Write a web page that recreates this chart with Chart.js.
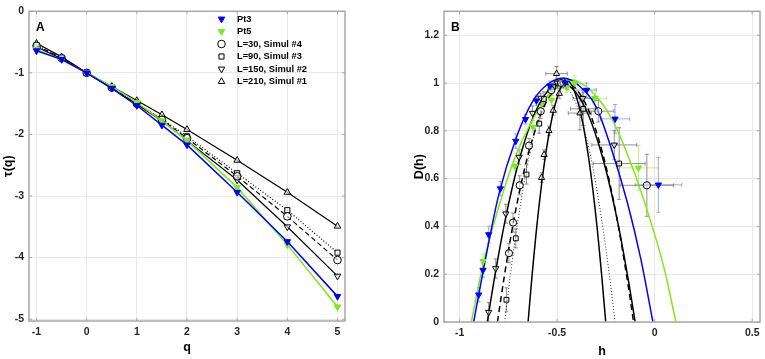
<!DOCTYPE html>
<html>
<head>
<meta charset="utf-8">
<script src="https://cdn.jsdelivr.net/npm/chart.js@4.4.0/dist/chart.umd.min.js"></script>
<style>
  html, body { margin: 0; padding: 0; background: #fff; }
  #wrapA { position: absolute; left: 0; top: 0; width: 380px; height: 359px; }
  #wrapB { position: absolute; left: 380px; top: 0; width: 385px; height: 359px; }
</style>
</head>
<body>
<div id="wrapA"><canvas id="chartA" width="380" height="359"></canvas></div>
<div id="wrapB"><canvas id="chartB" width="385" height="359"></canvas></div>
<script>
// ---- panel A : tau(q) ----
const qValues = [-1, -0.5, 0, 0.5, 1, 1.5, 2, 3, 4, 5];
const tauPt3  = [-0.64, -0.78, -1.0, -1.25, -1.53, -1.85, -2.17, -2.94, -3.74, -4.63];
const tauPt5  = [-0.62, -0.79, -1.0, -1.22, -1.48, -1.78, -2.10, -2.86, -3.79, -4.80];
const tauL30  = [-0.56, -0.76, -1.0, -1.24, -1.50, -1.76, -2.06, -2.68, -3.33, -4.04];
const tauL90  = [-0.55, -0.76, -1.0, -1.24, -1.50, -1.75, -2.03, -2.63, -3.23, -3.92];
const tauL150 = [-0.58, -0.77, -1.0, -1.25, -1.51, -1.78, -2.10, -2.74, -3.50, -4.30];
const tauL210 = [-0.52, -0.74, -1.0, -1.22, -1.45, -1.68, -1.92, -2.42, -2.94, -3.49];
const qTicks = [-1, 0, 1, 2, 3, 4, 5];
const tauTicks = [-5, -4, -3, -2, -1, 0];

// ---- panel B : D(h) markers with error bars ----
const pt3H    = [-0.902, -0.88, -0.851, -0.791, -0.712, -0.662, -0.606, -0.537, -0.46, -0.349, -0.203, 0.019];
const pt3D    = [0.114, 0.217, 0.366, 0.558, 0.757, 0.848, 0.926, 0.988, 1.0, 0.97, 0.85, 0.574];
const pt3HErr = [0, 0, 0, 0, 0, 0, 0.005, 0.01, 0.02, 0.05, 0.075, 0.12];
const pt3DErr = [0.03, 0.03, 0.035, 0.03, 0.03, 0.02, 0.02, 0.02, 0.02, 0.03, 0.06, 0.115];

const pt5H    = [-0.88, -0.717, -0.623, -0.529, -0.451, -0.409, -0.306, -0.083];
const pt5D    = [0.254, 0.652, 0.816, 0.929, 0.981, 1.0, 0.936, 0.645];
const pt5HErr = [0, 0, 0, 0, 0.01, 0.03, 0.058, 0.1];
const pt5DErr = [0.03, 0.02, 0.02, 0.02, 0.02, 0.03, 0.04, 0.095];

const l30H    = [-0.747, -0.726, -0.692, -0.644, -0.584, -0.53, -0.48, -0.289, -0.04];
const l30D    = [0.288, 0.416, 0.572, 0.738, 0.882, 0.97, 1.0, 0.882, 0.572];
const l30HErr = [0, 0, 0, 0, 0, 0, 0.01, 0.08, 0.137];
const l30DErr = [0.04, 0.04, 0.04, 0.03, 0.03, 0.02, 0.02, 0.045, 0.13];

const l90H    = [-0.76, -0.712, -0.657, -0.592, -0.568, -0.52, -0.47, -0.366, -0.182];
const l90D    = [0.093, 0.35, 0.617, 0.83, 0.933, 0.985, 1.0, 0.892, 0.663];
const l90HErr = [0, 0, 0, 0, 0, 0.01, 0.01, 0.065, 0.133];
const l90DErr = [0.05, 0.04, 0.04, 0.04, 0.03, 0.02, 0.02, 0.07, 0.15];

const l150H    = [-0.851, -0.815, -0.763, -0.695, -0.626, -0.584, -0.5, -0.369, -0.207];
const l150D    = [0.041, 0.224, 0.453, 0.69, 0.874, 0.937, 1.0, 0.936, 0.741];
const l150HErr = [0, 0, 0, 0, 0, 0, 0.01, 0.05, 0.115];
const l150DErr = [0.04, 0.04, 0.04, 0.03, 0.03, 0.02, 0.02, 0.04, 0.06];

const l210H    = [-0.58, -0.567, -0.542, -0.52, -0.489, -0.503, -0.46, -0.383];
const l210D    = [0.604, 0.70, 0.80, 0.885, 0.956, 1.039, 1.0, 0.874];
const l210HErr = [0, 0, 0, 0, 0, 0.055, 0.01, 0.06];
const l210DErr = [0.02, 0.02, 0.02, 0.02, 0.02, 0.03, 0.02, 0.07];

// ---- panel B : fitted spectra ----
const fitPt3H  = [-0.928, -0.88, -0.80, -0.71, -0.62, -0.54, -0.465, -0.39, -0.30, -0.22, -0.14, -0.07, -0.009];
const fitPt3D  = [0, 0.21, 0.53, 0.77, 0.93, 1.0, 1.02, 0.99, 0.9, 0.72, 0.5, 0.26, 0];
const fitPt5H  = [-0.94, -0.88, -0.80, -0.72, -0.63, -0.53, -0.434, -0.33, -0.22, -0.12, -0.02, 0.05, 0.109];
const fitPt5D  = [0, 0.24, 0.48, 0.68, 0.84, 0.96, 1.015, 0.97, 0.85, 0.66, 0.42, 0.22, 0];
const fitL30H  = [-0.806, -0.771, -0.719, -0.649, -0.562, -0.457, -0.352, -0.265, -0.195, -0.143, -0.108];
const fitL30D  = [0, 0.19, 0.44, 0.70, 0.91, 1.0, 0.91, 0.70, 0.44, 0.19, 0];
const fitL90H  = [-0.769, -0.741, -0.698, -0.642, -0.571, -0.486, -0.401, -0.33, -0.274, -0.231, -0.203];
const fitL90D  = [0, 0.19, 0.44, 0.70, 0.91, 1.0, 0.91, 0.70, 0.44, 0.19, 0];
const fitL150H = [-0.858, -0.82, -0.763, -0.687, -0.593, -0.479, -0.365, -0.271, -0.195, -0.138, -0.10];
const fitL150D = [0, 0.19, 0.44, 0.70, 0.91, 1.0, 0.91, 0.70, 0.44, 0.19, 0];
const fitL210H = [-0.649, -0.629, -0.599, -0.559, -0.51, -0.45, -0.39, -0.341, -0.301, -0.271, -0.251];
const fitL210D = [0, 0.19, 0.44, 0.70, 0.91, 1.01, 0.91, 0.70, 0.44, 0.19, 0];
const hTicks = [-1, -0.5, 0, 0.5];
const dTicks = [0, 0.2, 0.4, 0.6, 0.8, 1, 1.2];

const BLUE = '#0000ff';
const GREEN = '#7fe81a';
const FONT = '"Liberation Sans", Arial, Helvetica, sans-serif';
const tickFont = { family: FONT, size: 10.5, weight: 'bold' };

const pts = (xs, ys) => xs.map((x, i) => ({ x: x, y: ys[i] }));

// frame + inward ticks, MATLAB style
const framePlugin = {
  id: 'frame',
  afterDatasetsDraw(chart) {
    const { ctx, chartArea: a, scales } = chart;
    ctx.save();
    ctx.strokeStyle = '#a8a8a8';
    ctx.lineWidth = 1.5;
    ctx.strokeRect(a.left, a.top, a.right - a.left, a.bottom - a.top);
    ctx.lineWidth = 1;
    ctx.beginPath();
    scales.x.ticks.forEach(t => {
      const px = scales.x.getPixelForValue(t.value);
      ctx.moveTo(px, a.bottom); ctx.lineTo(px, a.bottom - 3);
      ctx.moveTo(px, a.top); ctx.lineTo(px, a.top + 3);
    });
    scales.y.ticks.forEach(t => {
      const py = scales.y.getPixelForValue(t.value);
      ctx.moveTo(a.left, py); ctx.lineTo(a.left + 3, py);
      ctx.moveTo(a.right, py); ctx.lineTo(a.right - 3, py);
    });
    ctx.stroke();
    ctx.restore();
  }
};

// axis titles and panel letter
const titlesPlugin = {
  id: 'titles',
  afterDraw(chart, args, opts) {
    const ctx = chart.ctx;
    const a = chart.chartArea;
    ctx.save();
    ctx.fillStyle = '#000';
    ctx.font = 'bold 12.5px ' + FONT;
    ctx.textAlign = 'center';
    ctx.textBaseline = 'alphabetic';
    ctx.fillText(opts.xTitle, (a.left + a.right) / 2, opts.xTitleY);
    ctx.translate(opts.yTitleX, (a.top + a.bottom) / 2);
    ctx.rotate(-Math.PI / 2);
    ctx.textBaseline = 'middle';
    ctx.fillText(opts.yTitle, 0, 0);
    ctx.restore();
    ctx.save();
    ctx.font = 'bold 12px ' + FONT;
    ctx.textBaseline = 'middle';
    ctx.fillStyle = '#000';
    ctx.fillText(opts.letter, a.left + 7, a.top + 16);
    ctx.restore();
  }
};

// error bars for datasets carrying hErr/dErr
const errorBarPlugin = {
  id: 'errorBars',
  beforeDatasetsDraw(chart) {
    const { ctx, chartArea: a, scales: { x, y } } = chart;
    ctx.save();
    ctx.beginPath();
    ctx.rect(a.left, a.top, a.right - a.left, a.bottom - a.top);
    ctx.clip();
    ctx.lineWidth = 1;
    chart.data.datasets.forEach(ds => {
      if (!ds.hErr) return;
      ctx.strokeStyle = ds.errColor;
      ctx.beginPath();
      ds.data.forEach((p, j) => {
        const px = x.getPixelForValue(p.x);
        const py = y.getPixelForValue(p.y);
        const ex = ds.hErr[j], ey = ds.dErr[j];
        if (ex > 0) {
          const x0 = x.getPixelForValue(p.x - ex), x1 = x.getPixelForValue(p.x + ex);
          ctx.moveTo(x0, py); ctx.lineTo(x1, py);
          ctx.moveTo(x0, py - 2); ctx.lineTo(x0, py + 2);
          ctx.moveTo(x1, py - 2); ctx.lineTo(x1, py + 2);
        }
        if (ey > 0) {
          const y0 = y.getPixelForValue(p.y - ey), y1 = y.getPixelForValue(p.y + ey);
          ctx.moveTo(px, y0); ctx.lineTo(px, y1);
          ctx.moveTo(px - 2, y0); ctx.lineTo(px + 2, y0);
          ctx.moveTo(px - 2, y1); ctx.lineTo(px + 2, y1);
        }
      });
      ctx.stroke();
    });
    ctx.restore();
  }
};

// legend inside panel A (markers only)
const legendPlugin = {
  id: 'markerLegend',
  afterDraw(chart) {
    const ctx = chart.ctx;
    ctx.save();
    chart.data.datasets.forEach((ds, i) => {
      const y = 19 + i * 12.5;
      ctx.fillStyle = ds.pointBackgroundColor;
      ctx.strokeStyle = ds.pointBorderColor;
      ctx.lineWidth = 1;
      Chart.helpers.drawPoint(ctx, {
        pointStyle: ds.pointStyle, rotation: ds.pointRotation || 0,
        radius: ds.pointRadius, borderWidth: 1
      }, 221.5, y);
      ctx.fillStyle = '#000';
      ctx.font = 'bold 9.3px ' + FONT;
      ctx.textBaseline = 'middle';
      ctx.textAlign = 'left';
      ctx.fillText(ds.label, 237, y);
    });
    ctx.restore();
  }
};

function setTicks(values) {
  return scale => { scale.ticks = values.map(v => ({ value: v })); };
}

function axis(min, max, ticks, fit) {
  return {
    type: 'linear', min: min, max: max,
    afterBuildTicks: setTicks(ticks),
    afterFit: fit,
    grid: { color: '#e8e8e8', lineWidth: 1, drawTicks: false },
    border: { display: false },
    ticks: { font: tickFont, color: '#262626', padding: 5, maxRotation: 0, autoSkip: false,
             callback: v => String(v) }
  };
}

function tauSet(label, values, color, style, rotation, fill, dash, width) {
  return {
    label: label, data: pts(qValues, values), showLine: true,
    borderColor: color, borderWidth: width, borderDash: dash,
    pointStyle: style, pointRotation: rotation, pointRadius: style === 'rect' ? 3.6 : 3.8,
    pointBackgroundColor: fill, pointBorderColor: color, pointBorderWidth: 1
  };
}

new Chart(document.getElementById('chartA'), {
  type: 'scatter',
  data: {
    datasets: [
      tauSet('Pt3', tauPt3, BLUE, 'triangle', 180, BLUE, [], 1.5),
      tauSet('Pt5', tauPt5, GREEN, 'triangle', 180, GREEN, [], 1.5),
      tauSet('L=30, Simul #4', tauL30, '#000', 'circle', 0, 'rgba(255,255,255,0.6)', [5, 3], 1.2),
      tauSet('L=90, Simul #3', tauL90, '#000', 'rect', 0, 'rgba(255,255,255,0.6)', [1, 2], 1.2),
      tauSet('L=150, Simul #2', tauL150, '#000', 'triangle', 180, 'rgba(255,255,255,0.6)', [], 1.2),
      tauSet('L=210, Simul #1', tauL210, '#000', 'triangle', 0, 'rgba(255,255,255,0.6)', [], 1.2)
    ]
  },
  options: {
    responsive: false, animation: false,
    layout: { padding: { top: 6, right: 35, left: 0, bottom: 0 } },
    scales: {
      x: axis(-1.15, 5.15, qTicks, s => { s.height = 38; }),
      y: axis(-5.03, 0, tauTicks, s => { s.width = 29; })
    },
    plugins: {
      legend: { display: false }, tooltip: { enabled: false },
      titles: { xTitle: 'q', xTitleY: 351, yTitle: 'τ(q)', yTitleX: 9, letter: 'A' }
    }
  },
  plugins: [framePlugin, titlesPlugin, legendPlugin]
});

function fitSet(hs, ds, color, dash, width) {
  return {
    data: pts(hs, ds), showLine: true, pointRadius: 0,
    borderColor: color, borderWidth: width, borderDash: dash,
    cubicInterpolationMode: 'monotone'
  };
}

function markSet(hs, ds, hErr, dErr, color, errColor, style, rotation, fill) {
  return {
    data: pts(hs, ds), showLine: false, hErr: hErr, dErr: dErr, errColor: errColor,
    pointStyle: style, pointRotation: rotation, pointRadius: style === 'rect' ? 3.4 : 3.6,
    pointBackgroundColor: fill, pointBorderColor: color, pointBorderWidth: 1
  };
}

const GREY_ERR = 'rgba(110,110,110,0.75)';
new Chart(document.getElementById('chartB'), {
  type: 'scatter',
  data: {
    datasets: [
      markSet(pt3H, pt3D, pt3HErr, pt3DErr, BLUE, 'rgba(90,90,255,0.55)', 'triangle', 180, BLUE),
      markSet(pt5H, pt5D, pt5HErr, pt5DErr, GREEN, 'rgba(130,235,40,0.55)', 'triangle', 180, GREEN),
      markSet(l30H, l30D, l30HErr, l30DErr, '#000', GREY_ERR, 'circle', 0, 'rgba(255,255,255,0.5)'),
      markSet(l90H, l90D, l90HErr, l90DErr, '#000', GREY_ERR, 'rect', 0, 'rgba(255,255,255,0.5)'),
      markSet(l150H, l150D, l150HErr, l150DErr, '#000', GREY_ERR, 'triangle', 180, 'rgba(255,255,255,0.5)'),
      markSet(l210H, l210D, l210HErr, l210DErr, '#000', GREY_ERR, 'triangle', 0, 'rgba(255,255,255,0.5)'),
      fitSet(fitPt3H, fitPt3D, BLUE, [], 1.5),
      fitSet(fitPt5H, fitPt5D, GREEN, [], 1.5),
      fitSet(fitL30H, fitL30D, '#000', [6, 4], 1.5),
      fitSet(fitL90H, fitL90D, '#333', [1, 2], 1),
      fitSet(fitL150H, fitL150D, '#000', [], 1.5),
      fitSet(fitL210H, fitL210D, '#000', [], 1.5)
    ]
  },
  options: {
    responsive: false, animation: false,
    layout: { padding: { top: 6, right: 5, left: 0, bottom: 0 } },
    scales: {
      x: axis(-1.08, 0.54, hTicks, s => { s.height = 37; }),
      y: axis(0, 1.3, dTicks, s => { s.width = 64; })
    },
    plugins: {
      legend: { display: false }, tooltip: { enabled: false },
      titles: { xTitle: 'h', xTitleY: 355, yTitle: 'D(h)', yTitleX: 40, letter: 'B' }
    }
  },
  plugins: [errorBarPlugin, framePlugin, titlesPlugin]
});
</script>
</body>
</html>
